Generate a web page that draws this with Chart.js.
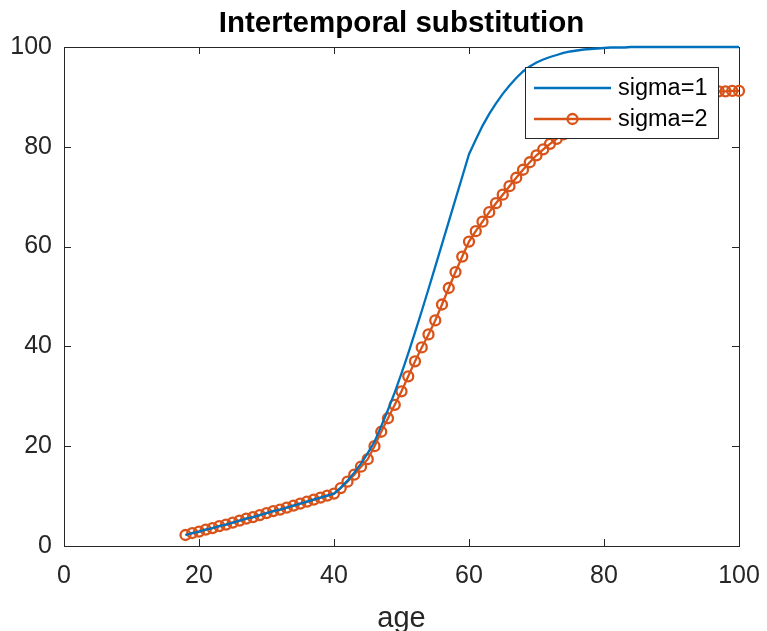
<!DOCTYPE html>
<html>
<head>
<meta charset="utf-8">
<script src="https://cdn.jsdelivr.net/npm/chart.js@4"></script>
<style>
  body { margin: 0; background: #fff; }
  canvas { display: block; }
</style>
</head>
<body>
<canvas id="myChart" width="767" height="631"></canvas>
<script>
// ages on the x axis
var ages = [18, 19, 20, 21, 22, 23, 24, 25, 26, 27, 28, 29, 30, 31, 32, 33, 34, 35, 36, 37,
            38, 39, 40, 41, 42, 43, 44, 45, 46, 47, 48, 49, 50, 51, 52, 53, 54, 55, 56, 57,
            58, 59, 60, 61, 62, 63, 64, 65, 66, 67, 68, 69, 70, 71, 72, 73, 74, 75, 76, 77,
            78, 79, 80, 81, 82, 83, 84, 85, 86, 87, 88, 89, 90, 91, 92, 93, 94, 95, 96, 97,
            98, 99, 100]

// sigma = 1
var sigma1 = [2.2, 2.6, 2.9, 3.3, 3.6, 4.0, 4.3, 4.7, 5.1, 5.5, 5.8, 6.2, 6.6, 7.0, 7.3, 7.7, 8.1, 8.5, 8.9, 9.3,
              9.7, 10.1, 10.5, 11.7, 13.1, 14.7, 16.5, 18.6, 20.9, 24.0, 27.3, 30.8, 34.6, 38.6, 42.8, 47.1, 51.5, 56.0, 60.5, 65.0,
              69.5, 74.0, 78.5, 81.4, 84.2, 86.6, 88.7, 90.6, 92.3, 93.8, 95.1, 96.1, 96.9, 97.5, 98.0, 98.4, 98.8, 99.1, 99.3, 99.5,
              99.6, 99.7, 99.8, 99.9, 99.9, 99.9, 100, 100, 100, 100, 100, 100, 100, 100, 100, 100, 100, 100, 100, 100,
              100, 100, 100]

// sigma = 2
var sigma2 = [2.2, 2.6, 2.9, 3.3, 3.6, 4.0, 4.3, 4.7, 5.1, 5.5, 5.8, 6.2, 6.6, 7.0, 7.3, 7.7, 8.1, 8.5, 8.9, 9.3,
              9.7, 10.1, 10.5, 11.6, 12.9, 14.3, 15.9, 17.4, 20.0, 22.9, 25.6, 28.3, 31.0, 34.0, 37.0, 39.8, 42.4, 45.2, 48.4, 51.7,
              54.9, 58.0, 61.0, 63.1, 65.0, 66.9, 68.7, 70.4, 72.1, 73.8, 75.4, 76.9, 78.3, 79.5, 80.6, 81.6, 82.5, 83.4, 84.2, 85.0,
              85.7, 86.4, 87.0, 87.5, 88.0, 88.5, 88.9, 89.3, 89.6, 89.9, 90.1, 90.3, 90.5, 90.6, 90.7, 90.8, 90.9, 91.0, 91.0, 91.1,
              91.1, 91.2, 91.2]

var labels = ["sigma=1", "sigma=2"]
var tickValues = [0, 20, 40, 60, 80, 100]

var FONT = "'Liberation Sans', Arial, Helvetica, sans-serif"
var AXIS = "#262626"

function points(ys) {
  return ages.map(function(a, i) { return { x: a, y: ys[i] } })
}

// MATLAB style box with inward ticks
var boxPlugin = {
  id: "box",
  beforeDatasetsDraw: function(chart) {
    var ctx = chart.ctx
    var a = chart.chartArea
    var xs = chart.scales.x
    var ys = chart.scales.y
    var len = 7
    ctx.save()
    ctx.strokeStyle = AXIS
    ctx.lineWidth = 1
    ctx.strokeRect(Math.round(a.left) + 0.5, Math.round(a.top) + 0.5,
                   Math.round(a.right - a.left), Math.round(a.bottom - a.top))
    ctx.beginPath()
    tickValues.forEach(function(v) {
      var px = Math.round(xs.getPixelForValue(v)) + 0.5
      ctx.moveTo(px, a.bottom); ctx.lineTo(px, a.bottom - len)
      ctx.moveTo(px, a.top); ctx.lineTo(px, a.top + len)
      var py = Math.round(ys.getPixelForValue(v)) + 0.5
      ctx.moveTo(a.left, py); ctx.lineTo(a.left + len, py)
      ctx.moveTo(a.right, py); ctx.lineTo(a.right - len, py)
    })
    ctx.stroke()
    ctx.restore()
  }
}

// legend box in the upper right of the axes
var legendPlugin = {
  id: "boxLegend",
  afterDraw: function(chart) {
    var ctx = chart.ctx
    var a = chart.chartArea
    var right = a.right - 21
    var top = a.top + 20
    var w = 193, h = 71
    var left = right - w
    ctx.save()
    ctx.fillStyle = "#fff"
    ctx.fillRect(left, top, w, h)
    ctx.strokeStyle = AXIS
    ctx.lineWidth = 1
    ctx.strokeRect(Math.round(left) + 0.5, Math.round(top) + 0.5, w, h)
    chart.data.datasets.forEach(function(ds, i) {
      var y = top + 21 + i * 31
      ctx.strokeStyle = ds.borderColor
      ctx.lineWidth = ds.borderWidth
      ctx.beginPath()
      ctx.moveTo(left + 9, y)
      ctx.lineTo(left + 86, y)
      ctx.stroke()
      if (ds.pointRadius > 0) {
        ctx.beginPath()
        ctx.arc(left + 47.5, y, ds.pointRadius, 0, Math.PI * 2)
        ctx.lineWidth = ds.pointBorderWidth
        ctx.stroke()
      }
      ctx.fillStyle = "#000"
      ctx.font = "23.5px " + FONT
      ctx.textBaseline = "middle"
      ctx.textAlign = "left"
      ctx.fillText(ds.label, left + 93, y + 1)
    })
    ctx.restore()
  }
}

var chart = new Chart(document.getElementById("myChart"), {
  type: "line",
  data: {
    datasets: [
      {
        label: labels[0],
        data: points(sigma1),
        borderColor: "#0072BD",
        backgroundColor: "#0072BD",
        borderWidth: 2.3,
        pointRadius: 0,
        pointBorderWidth: 0,
        tension: 0,
        clip: false,
        fill: false
      },
      {
        label: labels[1],
        data: points(sigma2),
        borderColor: "#D95319",
        backgroundColor: "rgba(0,0,0,0)",
        borderWidth: 2.3,
        pointRadius: 5,
        pointBorderWidth: 2.3,
        pointBorderColor: "#D95319",
        pointBackgroundColor: "rgba(0,0,0,0)",
        tension: 0,
        clip: false,
        fill: false
      }
    ]
  },
  options: {
    responsive: false,
    animation: false,
    devicePixelRatio: 1,
    layout: { padding: { left: 0, right: 28, top: 0, bottom: 0 } },
    plugins: {
      legend: { display: false },
      tooltip: { enabled: false },
      title: {
        display: true,
        fullSize: false,
        text: "Intertemporal substitution",
        color: "#000",
        font: { family: FONT, size: 29.5, weight: "bold", lineHeight: 1.2 },
        padding: { top: 6, bottom: 5.6 }
      }
    },
    scales: {
      x: {
        type: "linear",
        min: 0,
        max: 100,
        afterBuildTicks: function(scale) {
          scale.ticks = tickValues.map(function(v) { return { value: v } })
        },
        afterFit: function(scale) {
          scale.height = 85
          scale.paddingLeft = 0
          scale.paddingRight = 0
        },
        grid: { display: false, drawTicks: false },
        border: { display: false },
        ticks: {
          color: AXIS,
          padding: 15,
          maxRotation: 0,
          font: { family: FONT, size: 25 }
        },
        title: {
          display: true,
          text: "age",
          color: AXIS,
          font: { family: FONT, size: 29 },
          padding: { top: 0, bottom: -5 }
        }
      },
      y: {
        type: "linear",
        min: 0,
        max: 100,
        afterBuildTicks: function(scale) {
          scale.ticks = tickValues.map(function(v) { return { value: v } })
        },
        afterFit: function(scale) {
          scale.width = 64
          scale.paddingTop = 0
          scale.paddingBottom = 0
        },
        grid: { display: false, drawTicks: false },
        border: { display: false },
        ticks: {
          color: AXIS,
          padding: 12,
          font: { family: FONT, size: 25 }
        }
      }
    }
  },
  plugins: [boxPlugin, legendPlugin]
})
</script>
</body>
</html>
